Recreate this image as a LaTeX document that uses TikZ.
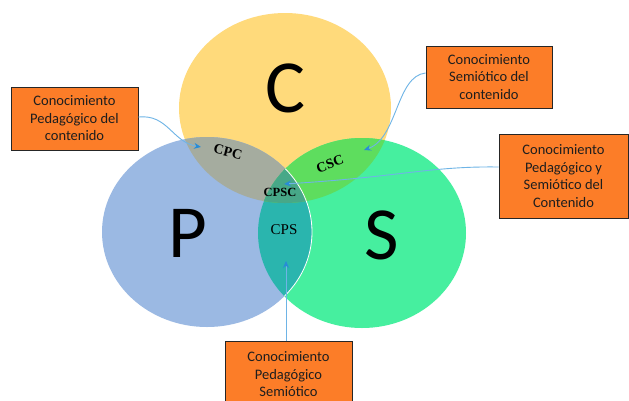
\documentclass[tikz,border=0pt]{standalone}
\usepackage{fontspec}
\setmainfont{Carlito}
\newfontfamily\serifL{Liberation Serif}
\usetikzlibrary{arrows.meta}
\definecolor{ccol}{RGB}{255,218,123}
\definecolor{pcol}{RGB}{155,185,227}
\definecolor{scol}{RGB}{70,239,159}
\definecolor{cpccol}{RGB}{165,172,159}
\definecolor{csccol}{RGB}{94,221,94}
\definecolor{cpsccol}{RGB}{71,168,136}
\definecolor{cpscol}{RGB}{42,181,174}
\definecolor{boxcol}{RGB}{252,125,40}
\definecolor{arrcol}{RGB}{110,180,230}
\definecolor{headcol}{RGB}{40,140,215}
\definecolor{txtcol}{RGB}{30,30,30}
\tikzset{
  infobox/.style={draw=black!85,line width=0.8pt,fill=boxcol,align=center,
    text=txtcol,font=\fontsize{14.5}{17.5}\selectfont,inner sep=0pt},
  bigletter/.style={font=\fontsize{75}{75}\selectfont,text=black,inner sep=0pt},
  reglabel/.style={font=\serifL\bfseries\fontsize{14}{14}\selectfont,text=black,inner sep=0pt},
  pointer/.style={draw=arrcol,line width=0.9pt,-{Stealth[length=7pt,width=6pt,color=headcol]}}
}
\def\Cshape{(285,108) ellipse [x radius=106pt, y radius=95pt]}
\def\Pshape{(207,232) ellipse [x radius=105pt, y radius=95pt]}
\def\Sshape{(362,233) ellipse [x radius=104pt, y radius=95pt]}
\begin{document}
\begin{tikzpicture}[x=1pt,y=-1pt]
\useasboundingbox (0,0) rectangle (629,400);
\clip (0,0) rectangle (629,400);
\fill[white] (0,0) rectangle (629,400);
% circles
\fill[ccol] \Cshape;
\fill[scol] \Sshape;
\fill[pcol] \Pshape;
\begin{scope}
  \clip \Pshape;
  \fill[cpccol] \Cshape;
  \fill[cpscol] \Sshape;
  \clip \Sshape;
  \fill[cpsccol] \Cshape;
\end{scope}
\begin{scope}
  \clip \Sshape;
  \clip \Cshape;
  \fill[csccol] (180,100) rectangle (400,220);
  \clip \Pshape;
  \fill[cpsccol] (180,100) rectangle (400,220);
\end{scope}
\begin{scope}
  \clip \Sshape;
  \draw[white,line width=0.8pt] \Pshape;
\end{scope}
% big letters
\node[bigletter] (lc) at (285,88) {C};
\node[bigletter] (lp) at (188,233) {P};
\node[bigletter] (ls) at (382,235) {S};
% region labels
\node[reglabel,rotate=-14] (cpc) at (228,152) {CPC};
\node[reglabel,rotate=20] (csc) at (330,164) {CSC};
\node[reglabel,font=\serifL\bfseries\fontsize{12.5}{12.5}\selectfont] (cpsc) at (280,192) {CPSC};
\node[reglabel,font=\serifL\fontsize{15}{15}\selectfont] (cps) at (284,230) {CPS};
% boxes
\node[infobox,minimum width=127pt,minimum height=63pt] (b1) at (74.5,118.5)
  {Conocimiento\\Pedagógico del\\contenido};
\node[infobox,minimum width=126pt,minimum height=62pt] (b2) at (489,77)
  {Conocimiento\\Semiótico del\\contenido};
\node[infobox,minimum width=129pt,minimum height=84pt] (b3) at (563.5,176)
  {Conocimiento\\Pedagógico y\\Semiótico del\\Contenido};
\node[infobox,minimum width=127pt,minimum height=66pt,anchor=north] (b4) at (288.5,341)
  {Conocimiento\\Pedagógico\\Semiótico};
% arrow targets
\coordinate (t1) at (201,147);
\coordinate (t2) at (364,150);
\coordinate (t3) at (284,184);
\coordinate (t4) at (286,261);
% arrows
\draw[pointer] (b1.east |- 0,117) .. controls (168,114) and (172,142) .. (t1);
\draw[pointer] (b2.west |- 0,73) .. controls (396,76) and (398,138) .. (t2);
\draw[pointer] (b3.west |- 0,167) .. controls (430,166) and (400,177) .. (t3);
\draw[pointer] (b4.north -| t4) -- (t4);
\end{tikzpicture}
\end{document}
